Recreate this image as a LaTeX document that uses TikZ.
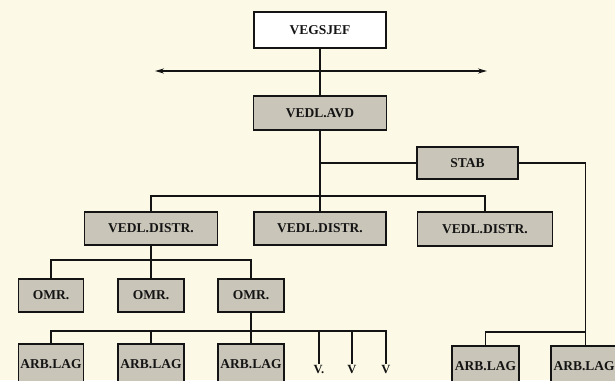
\documentclass[tikz,border=0pt]{standalone}
\usepackage{fontspec}
\setmainfont{Liberation Serif}
\usetikzlibrary{arrows.meta}
\definecolor{paper}{HTML}{FCFAE6}
\definecolor{boxgray}{HTML}{C9C5B8}
\definecolor{ink}{HTML}{141414}
\begin{document}
\begin{tikzpicture}[x=1pt,y=-1pt,
  orgbox/.style={draw=ink, line width=1.9pt, fill=boxgray, inner sep=0pt,
    font=\fontsize{13.5}{15}\selectfont\bfseries, text=ink},
  whitebox/.style={orgbox, fill=white, line width=1.6pt},
  conn/.style={draw=ink, line width=1.5pt},
  vlabel/.style={font=\fontsize{12.5}{14}\selectfont\bfseries, text=ink, inner sep=1pt}]
\useasboundingbox (0,0) rectangle (615,380);
\clip (0,0) rectangle (615,380);
\fill[paper] (0,0) rectangle (615,380);

% nodes
\node[whitebox, minimum width=132pt, minimum height=36pt] (vs) at (320,30) {VEGSJEF};
\node[orgbox, minimum width=133pt, minimum height=34pt] (avd) at (320,113) {VEDL.AVD};
\node[orgbox, minimum width=101pt, minimum height=32pt] (stab) at (467.5,163) {STAB};
\node[orgbox, minimum width=133pt, minimum height=33pt] (d1) at (151,228.5) {VEDL.DISTR.};
\node[orgbox, minimum width=132pt, minimum height=33pt] (d2) at (320,228.5) {VEDL.DISTR.};
\node[orgbox, minimum width=135pt, minimum height=34pt] (d3) at (485,229) {VEDL.DISTR.};
\node[orgbox, minimum width=65pt, minimum height=33pt] (o1) at (51,295.5) {OMR.};
\node[orgbox, minimum width=66pt, minimum height=33pt] (o2) at (151,295.5) {OMR.};
\node[orgbox, minimum width=66pt, minimum height=33pt] (o3) at (251,295.5) {OMR.};
\node[orgbox, minimum width=65pt, minimum height=40pt] (a1) at (51,364) {ARB.LAG};
\node[orgbox, minimum width=66pt, minimum height=40pt] (a2) at (151,364) {ARB.LAG};
\node[orgbox, minimum width=66pt, minimum height=40pt] (a3) at (251,364) {ARB.LAG};
\node[orgbox, minimum width=67pt, minimum height=40pt] (a4) at (485.5,366) {ARB.LAG};
\node[orgbox, minimum width=69pt, minimum height=40pt, text width=64pt, align=left] (a5) at (585.5,366) {ARB.LAG};
\node[vlabel] (v1) at (319,369) {V.};
\node[vlabel] (v2) at (352,369) {V};
\node[vlabel] (v3) at (386,369) {V};

% coordinates for buses
\coordinate (arrL) at (155,71);
\coordinate (arrR) at (487,71);
\coordinate (bus1) at (320,196);
\coordinate (bus2) at (151,260);
\coordinate (bus3) at (386,331);
\coordinate (bus4) at (585,332);

% connectors
\draw[conn, {Stealth[length=9pt,width=5pt]}-{Stealth[length=9pt,width=5pt]}] (arrL) -- (arrR);
\draw[conn] (vs.south) -- (avd.north);
\draw[conn] (avd.south) -- (d2.north);
\draw[conn] (stab.west) -- (stab.west -| avd.south);
\draw[conn] (d1.north) |- (bus1) -| (d3.north);
\draw[conn] (d1.south) -- (o2.north);
\draw[conn] (o1.north) |- (bus2) -| (o3.north);
\draw[conn] (o3.south) -- (a3.north);
\draw[conn] (a1.north) |- (bus3) -- (v3.north);
\draw[conn] (a2.north) -- (a2.north |- bus3);
\draw[conn] (v1.north |- bus3) -- (v1.north);
\draw[conn] (v2.north |- bus3) -- (v2.north);
\draw[conn] (stab.east) -| (a5.north);
\draw[conn] (a4.north) |- (bus4);
\end{tikzpicture}
\end{document}
